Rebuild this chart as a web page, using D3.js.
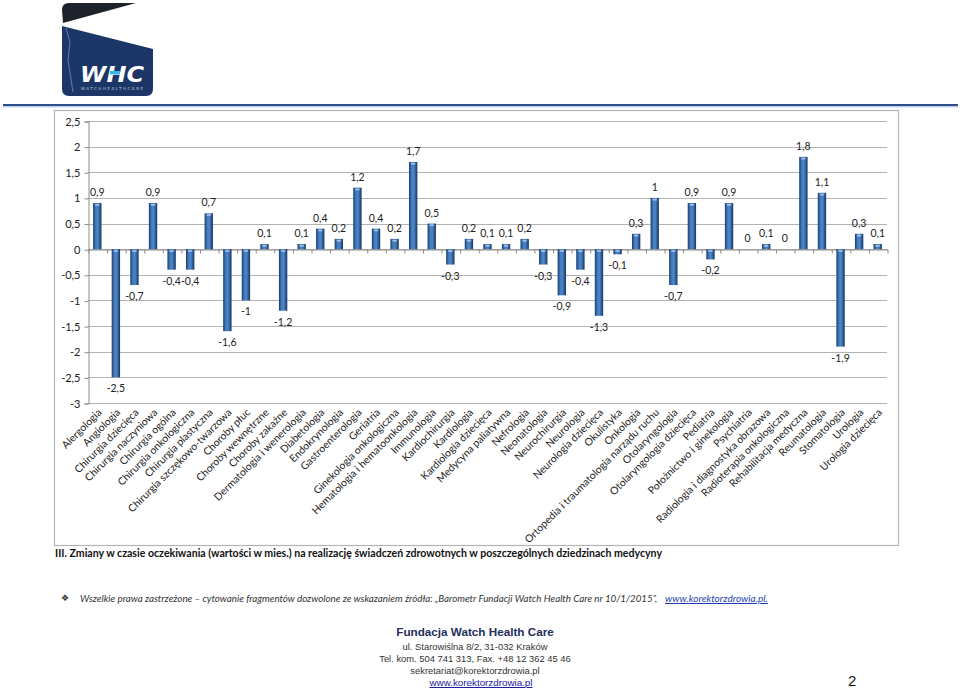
<!DOCTYPE html>
<html>
<head>
<meta charset="utf-8">
<script src="https://cdn.jsdelivr.net/npm/d3@7"></script>
<style>
  body { margin: 0; background: #fff; }
  svg { display: block; }
</style>
</head>
<body>
<svg id="page" width="960" height="689"></svg>
<script>
var categories = ["Alergologia", "Angiologia", "Chirurgia dziecięca", "Chirurgia naczyniowa", "Chirurgia ogólna",
  "Chirurgia onkologiczna", "Chirurgia plastyczna", "Chirurgia szczękowo-twarzowa", "Choroby płuc",
  "Choroby wewnętrzne", "Choroby zakaźne", "Dermatologia i wenerologia", "Diabetologia", "Endokrynologia",
  "Gastroenterologia", "Geriatria", "Ginekologia onkologiczna", "Hematologia i hematoonkologia", "Immunologia",
  "Kardiochirurgia", "Kardiologia", "Kardiologia dziecięca", "Medycyna paliatywna", "Nefrologia", "Neonatologia",
  "Neurochirurgia", "Neurologia", "Neurologia dziecięca", "Okulistyka", "Onkologia",
  "Ortopedia i traumatologia  narządu ruchu", "Otolaryngologia", "Otolaryngologia dziecięca", "Pediatria",
  "Położnictwo i ginekologia", "Psychiatria", "Radiologia i diagnostyka obrazowa", "Radioterapia onkologiczna",
  "Rehabilitacja medyczna", "Reumatologia", "Stomatologia", "Urologia", "Urologia dziecięca"];

var values = [0.9, -2.5, -0.7, 0.9, -0.4, -0.4, 0.7, -1.6, -1, 0.1, -1.2, 0.1, 0.4, 0.2, 1.2, 0.4, 0.2, 1.7, 0.5,
  -0.3, 0.2, 0.1, 0.1, 0.2, -0.3, -0.9, -0.4, -1.3, -0.1, 0.3, 1, -0.7, 0.9, -0.2, 0.9, 0, 0.1, 0, 1.8, 1.1,
  -1.9, 0.3, 0.1];

var yTicks = [2.5, 2, 1.5, 1, 0.5, 0, -0.5, -1, -1.5, -2, -2.5, -3];

var chartTitle = "III. Zmiany w czasie oczekiwania (wartości w mies.) na realizację świadczeń zdrowotnych w poszczególnych dziedzinach medycyny";
var footerLines = ["ul. Starowiślna 8/2, 31-032 Kraków", "Tel. kom. 504 741 313, Fax. +48 12 362 45 46", "sekretariat@korektorzdrowia.pl"];

var svg = d3.select("#page");
var calibri = "Lato, 'Open Sans', sans-serif";
var comma = function (d) { return String(d).replace(".", ","); };

// shrink font so that a text's natural width is w
function fitWidth(sel, w) {
  var fs = +sel.attr("font-size");
  var len = sel.node().getComputedTextLength();
  sel.attr("font-size", (fs * w / len).toFixed(2));
}

// ---------- header: logo + blue rule ----------
var logo = svg.append("g");
logo.append("path")
  .attr("d", "M62,10 Q62,3 69,3 L136,3 L63,23 Z")
  .attr("fill", "#1e232b");
logo.append("path")
  .attr("d", "M62,26 L153,49 L153,89 Q153,96 146,96 L69,96 Q62,96 62,89 Z")
  .attr("fill", "#1b3667");
logo.append("path")
  .attr("d", "M66,28 L70,42 L68,60 L73,92")
  .attr("fill", "none").attr("stroke", "#6f8fc4").attr("stroke-width", 0.8);
logo.append("text")
  .attr("x", 80).attr("y", 82)
  .attr("font-family", "'DejaVu Sans', sans-serif").attr("font-weight", "bold").attr("font-style", "italic")
  .attr("font-size", 22).attr("fill", "#fff")
  .attr("textLength", 64).attr("lengthAdjust", "spacingAndGlyphs")
  .text("WHC");
logo.append("rect").attr("x", 110).attr("y", 71).attr("width", 10).attr("height", 3.5).attr("fill", "#37b6e6");
logo.append("text")
  .attr("x", 81).attr("y", 90)
  .attr("font-family", "'DejaVu Sans', sans-serif").attr("font-size", 4).attr("fill", "#b9c6dc")
  .attr("textLength", 62).attr("lengthAdjust", "spacing")
  .text("WATCHHEALTHCARE");

svg.append("line").attr("x1", 3).attr("x2", 958).attr("y1", 105).attr("y2", 105)
  .attr("stroke", "#2d4f8e").attr("stroke-width", 2);
svg.append("line").attr("x1", 3).attr("x2", 958).attr("y1", 106.8).attr("y2", 106.8)
  .attr("stroke", "#a9bbdb").attr("stroke-width", 1);

// ---------- chart frame ----------
svg.append("rect").attr("x", 54.5).attr("y", 110.5).attr("width", 844).attr("height", 435)
  .attr("fill", "#fff").attr("stroke", "#b4b4b4").attr("stroke-width", 1.2);

var plot = { left: 88, right: 887, top: 121, bottom: 403 };

var x = d3.scaleBand().domain(categories).range([plot.left, plot.right])
  .paddingInner(0.55).paddingOuter(0.275);
var y = d3.scaleLinear().domain([-3, 2.5]).range([plot.bottom, plot.top]);
var xEdges = d3.scaleLinear().domain([0, categories.length]).range([plot.left, plot.right]);

var defs = svg.append("defs");
var grad = defs.append("linearGradient").attr("id", "barGrad").attr("x1", "0").attr("x2", "1").attr("y1", "0").attr("y2", "0");
grad.append("stop").attr("offset", "0%").attr("stop-color", "#1a3c6c");
grad.append("stop").attr("offset", "30%").attr("stop-color", "#4079bc");
grad.append("stop").attr("offset", "55%").attr("stop-color", "#4d88cb");
grad.append("stop").attr("offset", "100%").attr("stop-color", "#173561");

// gridlines
svg.append("g").selectAll("line").data(yTicks).join("line")
  .attr("x1", plot.left).attr("x2", plot.right)
  .attr("y1", d => Math.round(y(d)) + 0.5).attr("y2", d => Math.round(y(d)) + 0.5)
  .attr("stroke", "#b3b3b3").attr("stroke-width", 1);

// y axis
var yAxis = svg.append("g").attr("transform", `translate(${plot.left + 0.5}, 0.5)`)
  .call(d3.axisLeft(y).tickValues(yTicks).tickFormat(comma).tickSize(4).tickPadding(4));
yAxis.select(".domain").attr("stroke", "#8c8c8c");
yAxis.selectAll(".tick line").attr("stroke", "#8c8c8c");
yAxis.selectAll("text").attr("font-family", calibri).attr("font-size", 11).attr("fill", "#222");

// zero axis with category boundary ticks
var zAxis = svg.append("g").attr("transform", `translate(0.5, ${Math.round(y(0)) + 0.5})`)
  .call(d3.axisBottom(xEdges).tickValues(d3.range(categories.length + 1)).tickFormat("").tickSize(4).tickSizeOuter(0));
zAxis.select(".domain").attr("stroke", "#8c8c8c");
zAxis.selectAll(".tick line").attr("stroke", "#8c8c8c");

// bars
var bars = svg.append("g").selectAll("g").data(values).join("g")
  .attr("transform", (d, i) => `translate(${x(categories[i])}, 0)`);
bars.filter(d => d !== 0).append("rect")
  .attr("y", d => y(Math.max(0, d)))
  .attr("width", x.bandwidth())
  .attr("height", d => Math.abs(y(d) - y(0)))
  .attr("fill", "url(#barGrad)");
bars.filter(d => d !== 0).append("rect")
  .attr("x", 2).attr("y", d => y(Math.max(0, d)) + 1)
  .attr("width", x.bandwidth() - 4).attr("height", 1.6)
  .attr("fill", "#b7cdec").attr("opacity", 0.85);

// value labels
svg.append("g").selectAll("text").data(values).join("text")
  .attr("x", (d, i) => x(categories[i]) + x.bandwidth() / 2)
  .attr("y", d => d < 0 ? y(d) + 15 : y(d) - 7)
  .attr("text-anchor", "middle")
  .attr("font-family", calibri).attr("font-size", 10.5).attr("fill", "#222")
  .text(comma);

// category labels
var xAxis = svg.append("g").attr("transform", `translate(0, ${plot.bottom})`)
  .call(d3.axisBottom(x).tickSize(0).tickPadding(0));
xAxis.select(".domain").remove();
xAxis.selectAll("text")
  .attr("font-family", calibri).attr("font-size", 10.4).attr("fill", "#222")
  .attr("text-anchor", "end").attr("dy", 0)
  .attr("transform", "translate(5, 10) rotate(-45)");

// ---------- captions ----------
svg.append("text").attr("x", 55).attr("y", 557)
  .attr("font-family", calibri).attr("font-weight", "bold").attr("font-size", 12).attr("fill", "#111")
  .attr("textLength", 607).attr("lengthAdjust", "spacingAndGlyphs")
  .text(chartTitle);

svg.append("text").attr("x", 61).attr("y", 601)
  .attr("font-family", "'DejaVu Sans', sans-serif").attr("font-size", 9).attr("fill", "#333")
  .text("❖");
var note = svg.append("text").attr("x", 80).attr("y", 602)
  .attr("font-family", calibri).attr("font-style", "italic").attr("font-size", 11).attr("fill", "#333")
  .text("Wszelkie prawa zastrzeżone – cytowanie fragmentów dozwolone ze wskazaniem źródła: „Barometr Fundacji Watch Health Care nr 10/1/2015”,");
fitWidth(note, 578);
var link = svg.append("text").attr("x", 665).attr("y", 602)
  .attr("font-family", calibri).attr("font-style", "italic").attr("font-size", 11).attr("fill", "#1f3fb0")
  .attr("text-decoration", "underline")
  .text("www.korektorzdrowia.pl.");
fitWidth(link, 103);

// ---------- footer ----------
var foot = svg.append("g").attr("font-family", "'Liberation Sans', Arial, sans-serif").attr("text-anchor", "middle");
foot.append("text").attr("x", 475).attr("y", 636)
  .attr("font-weight", "bold").attr("font-size", 11.7).attr("fill", "#1f2f5e")
  .text("Fundacja Watch Health Care");
foot.selectAll(".fl").data(footerLines).join("text").attr("class", "fl")
  .attr("x", 475).attr("y", (d, i) => 649.5 + i * 12)
  .attr("font-size", 9.4).attr("fill", "#333")
  .text(d => d);
foot.append("text").attr("x", 481).attr("y", 686)
  .attr("font-size", 9.8).attr("fill", "#1a1aa6").attr("text-decoration", "underline")
  .text("www.korektorzdrowia.pl");
svg.append("text").attr("x", 848).attr("y", 686)
  .attr("font-family", "'Liberation Sans', Arial, sans-serif").attr("font-size", 15).attr("fill", "#111")
  .text("2");
</script>
</body>
</html>
